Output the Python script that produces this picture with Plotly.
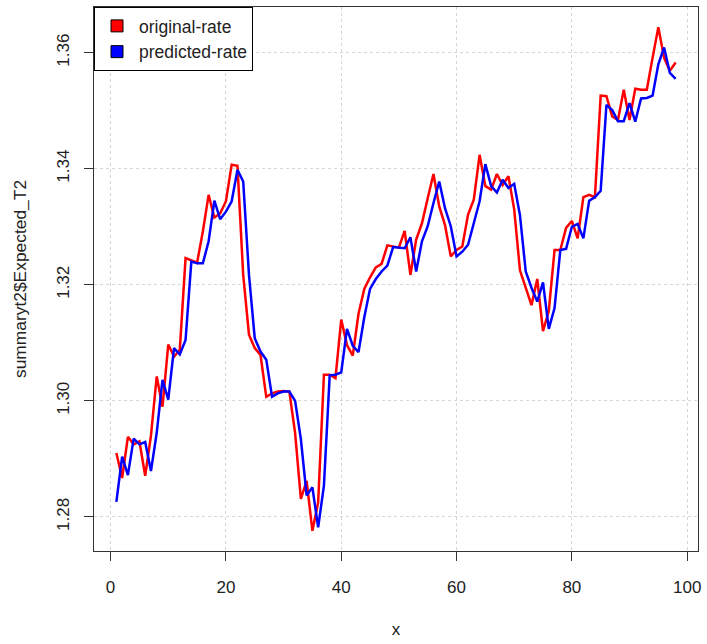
import plotly.graph_objects as go

# observation index
x = list(range(1, 99))

# original exchange rate
original_rate = [
    1.2910, 1.2867, 1.2938, 1.2925, 1.2930, 1.2871, 1.2940, 1.3042, 1.2990, 1.3097,
    1.3076, 1.3088, 1.3246, 1.3242, 1.3238, 1.3292, 1.3355, 1.3316, 1.3323, 1.3344,
    1.3407, 1.3405, 1.3217, 1.3114, 1.3091, 1.3079, 1.3007, 1.3013, 1.3016, 1.3017,
    1.3016, 1.2945, 1.2831, 1.2862, 1.2776, 1.2825, 1.3045, 1.3045, 1.3039, 1.3140,
    1.3096, 1.3078, 1.3150, 1.3193, 1.3213, 1.3230, 1.3236, 1.3268, 1.3266, 1.3264,
    1.3293, 1.3217, 1.3278, 1.3306, 1.3349, 1.3391, 1.3335, 1.3303, 1.3249, 1.3260,
    1.3266, 1.3321, 1.3347, 1.3424, 1.3370, 1.3364, 1.3391, 1.3372, 1.3387, 1.3330,
    1.3225, 1.3195, 1.3165, 1.3210, 1.3120, 1.3155, 1.3260, 1.3260, 1.3298, 1.3310,
    1.3280, 1.3351, 1.3355, 1.3351, 1.3526, 1.3525, 1.3490, 1.3484, 1.3536, 1.3484,
    1.3538, 1.3536, 1.3536, 1.3591, 1.3644, 1.3591, 1.3569, 1.3583,
]

# model prediction
predicted_rate = [
    1.2826, 1.2904, 1.2872, 1.2935, 1.2925, 1.2929, 1.2879, 1.2945, 1.3036, 1.3002,
    1.3091, 1.3080, 1.3105, 1.3240, 1.3237, 1.3237, 1.3275, 1.3345, 1.3313, 1.3326,
    1.3344, 1.3398, 1.3378, 1.3217, 1.3108, 1.3085, 1.3071, 1.3007, 1.3013, 1.3016,
    1.3016, 1.3000, 1.2934, 1.2837, 1.2851, 1.2782, 1.2854, 1.3044, 1.3045, 1.3049,
    1.3124, 1.3095, 1.3084, 1.3144, 1.3193, 1.3210, 1.3223, 1.3233, 1.3265, 1.3264,
    1.3263, 1.3282, 1.3223, 1.3275, 1.3301, 1.3341, 1.3378, 1.3332, 1.3301, 1.3249,
    1.3257, 1.3269, 1.3309, 1.3344, 1.3408, 1.3370, 1.3359, 1.3381, 1.3367, 1.3374,
    1.3320, 1.3223, 1.3195, 1.3171, 1.3204, 1.3124, 1.3160, 1.3260, 1.3262, 1.3300,
    1.3305, 1.3280, 1.3345, 1.3351, 1.3362, 1.3510, 1.3501, 1.3482, 1.3482, 1.3513,
    1.3481, 1.3521, 1.3522, 1.3526, 1.3580, 1.3609, 1.3565, 1.3555,
]

x_ticks = [0, 20, 40, 60, 80, 100]
y_ticks = [1.28, 1.30, 1.32, 1.34, 1.36]

FONT = "Liberation Sans, Arial, sans-serif"
TXT = "#222222"

fig = go.Figure()

fig.add_trace(go.Scatter(x=x, y=original_rate, mode="lines",
                         line=dict(color="red", width=2.5), showlegend=False))
fig.add_trace(go.Scatter(x=x, y=predicted_rate, mode="lines",
                         line=dict(color="blue", width=2.5), showlegend=False))

# legend keys drawn as filled squares
for name, col in [("original-rate", "red"), ("predicted-rate", "blue")]:
    fig.add_trace(go.Scatter(x=[None], y=[None], mode="markers", name=name,
                             marker=dict(symbol="square", size=12, color=col,
                                         line=dict(color="black", width=1))))

# R-style padded ranges (4% on each side)
xmin, xmax = min(x), max(x)
ymin = min(min(original_rate), min(predicted_rate))
ymax = max(max(original_rate), max(predicted_rate))
xpad = (xmax - xmin) * 0.04
ypad = (ymax - ymin) * 0.04

axis_common = dict(
    showline=True, linecolor="#333333", linewidth=1, mirror=True,
    ticks="outside", ticklen=9, tickcolor="#333333", tickwidth=1,
    showgrid=True, gridcolor="#d6d6d6", griddash="dot", gridwidth=1,
    zeroline=False, tickfont=dict(family=FONT, size=17, color=TXT),
)

fig.update_xaxes(range=[xmin - xpad, xmax + xpad], tickvals=x_ticks,
                 title=dict(text="x", font=dict(family=FONT, size=17, color=TXT),
                            standoff=26),
                 ticklabelstandoff=12, **axis_common)
fig.update_yaxes(range=[ymin - ypad, ymax + ypad], tickvals=y_ticks,
                 tickformat=".2f", tickangle=-90,
                 title=dict(text="summaryt2$Expected_T2",
                            font=dict(family=FONT, size=17.4, color=TXT), standoff=23),
                 ticklabelstandoff=8, **axis_common)

fig.update_layout(
    width=707, height=644,
    margin=dict(l=94, r=6, t=7, b=93),
    paper_bgcolor="white", plot_bgcolor="white",
    legend=dict(x=0, y=1, xanchor="left", yanchor="top",
                bgcolor="white", bordercolor="black", borderwidth=1,
                font=dict(family=FONT, size=17.5, color=TXT),
                itemwidth=34, tracegroupgap=0),
    font=dict(family=FONT, color=TXT),
)

fig.write_html("out.html")
